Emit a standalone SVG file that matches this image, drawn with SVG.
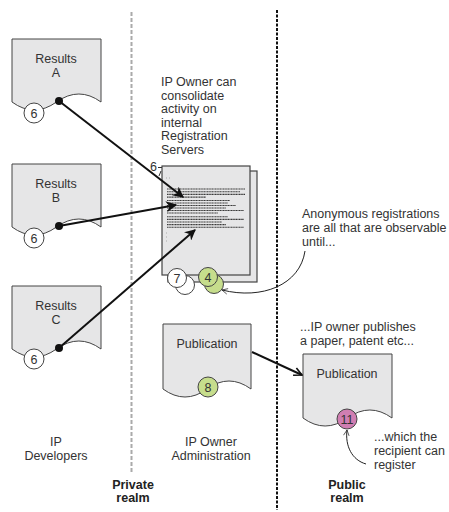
<svg xmlns="http://www.w3.org/2000/svg" width="449" height="512" viewBox="0 0 449 512">
  <style>
    text { font-family: "Liberation Sans", Arial, sans-serif; font-size: 12.5px; fill: #333; }
    .c { text-anchor: middle; }
    .b { font-weight: bold; fill: #222; }
    .doc { fill: #e6e6e7; stroke: #444; stroke-width: 1; }
    .sheet { fill: #e6e6e7; stroke: #444; stroke-width: 1.2; }
    .num { fill: #fff; stroke: #444; stroke-width: 1; }
    .green { fill: #c6dd8c; stroke: #444; stroke-width: 1; }
    .pink { fill: #d07eb2; stroke: #444; stroke-width: 1; }
    .flow { stroke: #111; stroke-width: 2; fill: none; marker-end: url(#ah); }
    .note { stroke: #222; stroke-width: 1; fill: none; marker-end: url(#thin); }
    .row { stroke: #3a3a3a; stroke-width: 1.1; stroke-dasharray: 1.2 0.4; }
    .dots { stroke: #aaa; stroke-width: 1; stroke-dasharray: 1 2; }
  </style>
  <defs>
    <marker id="ah" viewBox="0 0 10 10" refX="9" refY="5" markerWidth="5.5" markerHeight="5.5" orient="auto" markerUnits="strokeWidth">
      <path d="M0,0 L10,5 L0,10 L3,5 Z" fill="#111"/>
    </marker>
    <marker id="open" viewBox="0 0 10 10" refX="9" refY="5" markerWidth="5" markerHeight="5" orient="auto" markerUnits="strokeWidth">
      <path d="M1,1 L9,5 L1,9" fill="none" stroke="#111" stroke-width="1.6"/>
    </marker>
    <marker id="thin" viewBox="0 0 10 10" refX="9" refY="5" markerWidth="7" markerHeight="7" orient="auto" markerUnits="strokeWidth">
      <path d="M1,1 L9,5 L1,9" fill="none" stroke="#222" stroke-width="1"/>
    </marker>
  </defs>

  <!-- realm boundaries -->
  <line x1="131.5" y1="12" x2="131.5" y2="472" stroke="#aaa" stroke-width="2" stroke-dasharray="4 2"/>
  <line x1="277" y1="10" x2="277" y2="510" stroke="#111" stroke-width="2" stroke-dasharray="3 1.5"/>

  <!-- column captions -->
  <text class="c" x="56" y="446">IP</text>
  <text class="c" x="56" y="460">Developers</text>
  <text class="c" x="211" y="446">IP Owner</text>
  <text class="c" x="211" y="460">Administration</text>
  <text class="c b" x="133" y="489">Private</text>
  <text class="c b" x="133" y="502">realm</text>
  <text class="c b" x="347" y="489">Public</text>
  <text class="c b" x="347" y="502">realm</text>

  <!-- annotations -->
  <text x="161" y="86">IP Owner can</text>
  <text x="161" y="99.6">consolidate</text>
  <text x="161" y="113.2">activity on</text>
  <text x="161" y="126.8">internal</text>
  <text x="161" y="140.4">Registration</text>
  <text x="161" y="154">Servers</text>

  <text x="302" y="218">Anonymous registrations</text>
  <text x="302" y="232">are all that are observable</text>
  <text x="302" y="246">until...</text>

  <text x="300" y="331">...IP owner publishes</text>
  <text x="300" y="345">a paper, patent etc...</text>

  <text x="374" y="441">...which the</text>
  <text x="374" y="455">recipient can</text>
  <text x="374" y="469">register</text>

  <!-- Results A -->
  <g id="results-a">
    <path class="doc" d="M12,39 H101 V102 Q79,86 56.5,102 T12,102 Z"/>
    <text class="c" x="56" y="63">Results</text>
    <text class="c" x="56" y="77">A</text>
    <circle class="num" cx="34" cy="113" r="10"/>
    <text class="c" x="34" y="117.5">6</text>
    <circle cx="59" cy="101" r="4" fill="#111"/>
  </g>

  <!-- Results B -->
  <g id="results-b">
    <path class="doc" d="M12,164 H101 V227 Q79,211 56.5,227 T12,227 Z"/>
    <text class="c" x="56" y="188">Results</text>
    <text class="c" x="56" y="202">B</text>
    <circle class="num" cx="34" cy="238" r="10"/>
    <text class="c" x="34" y="242.5">6</text>
    <circle cx="59" cy="226" r="4" fill="#111"/>
  </g>

  <!-- Results C -->
  <g id="results-c">
    <path class="doc" d="M12,286 H101 V349 Q79,333 56.5,349 T12,349 Z"/>
    <text class="c" x="56" y="310">Results</text>
    <text class="c" x="56" y="324">C</text>
    <circle class="num" cx="34" cy="359" r="10"/>
    <text class="c" x="34" y="363.5">6</text>
    <circle cx="59" cy="348" r="4" fill="#111"/>
  </g>

  <!-- internal registration server log -->
  <g id="registration-servers">
    <rect class="sheet" x="168" y="171" width="89" height="111"/>
    <rect class="sheet" x="162" y="166" width="88" height="109"/>
    <line class="dots" x1="166" y1="178" x2="170" y2="178"/>
    <line class="row" x1="167" y1="189" x2="245" y2="189"/>
    <line class="row" x1="167" y1="191.7" x2="240" y2="191.7"/>
    <line class="row" x1="167" y1="194.4" x2="245" y2="194.4"/>
    <line class="row" x1="167" y1="197.1" x2="206" y2="197.1"/>
    <line class="row" x1="167" y1="200.5" x2="230" y2="200.5"/>
    <line class="row" x1="167" y1="203" x2="228" y2="203"/>
    <line class="row" x1="167" y1="205.5" x2="236" y2="205.5"/>
    <line class="row" x1="167" y1="208" x2="226" y2="208"/>
    <line class="row" x1="167" y1="210.5" x2="244" y2="210.5"/>
    <line class="row" x1="167" y1="213" x2="218" y2="213"/>
    <line class="row" x1="167" y1="216.8" x2="228" y2="216.8"/>
    <line class="row" x1="167" y1="219.4" x2="244" y2="219.4"/>
    <line class="row" x1="167" y1="222" x2="222" y2="222"/>
    <line class="row" x1="167" y1="224.6" x2="226" y2="224.6"/>
    <line class="row" x1="167" y1="227.2" x2="244" y2="227.2"/>
    <line class="dots" x1="166" y1="233" x2="169" y2="233"/>
    <line class="dots" x1="166" y1="237" x2="169" y2="237"/>
    <line class="dots" x1="166" y1="241" x2="169" y2="241"/>
    <text x="150" y="171">6</text>
    <path d="M158,167.5 H162 M161,171 L159,176" stroke="#333" stroke-width="1" fill="none"/>
  </g>

  <!-- stacked registration markers -->
  <g id="marker-7">
    <circle class="num" cx="185" cy="285" r="9.5"/>
    <circle class="num" cx="177" cy="278" r="9.5"/>
    <text class="c" x="177" y="282.5">7</text>
  </g>
  <g id="marker-4">
    <circle class="green" cx="214" cy="284" r="9.5"/>
    <circle class="green" cx="208" cy="277" r="9.5"/>
    <text class="c" x="208" y="281.5">4</text>
  </g>

  <!-- Publication (administration) -->
  <g id="publication-internal">
    <path class="doc" d="M163,324 H251 V389 Q229,373 207,389 T163,389 Z"/>
    <text class="c" x="207" y="348">Publication</text>
    <circle class="green" cx="208" cy="387" r="10"/>
    <text class="c" x="208" y="391.5">8</text>
  </g>

  <!-- Publication (public) -->
  <g id="publication-public">
    <path class="doc" d="M303,354 H392 V418 Q370,402 347.5,418 T303,418 Z"/>
    <text class="c" x="347" y="378">Publication</text>
    <circle class="pink" cx="347" cy="419" r="10"/>
    <text class="c" x="347" y="423.5">11</text>
  </g>

  <!-- connectors -->
  <g id="connectors">
    <line class="flow" x1="59" y1="101" x2="183" y2="197"/>
    <line class="flow" x1="59" y1="226" x2="176" y2="205"/>
    <line class="flow" x1="59" y1="348" x2="195" y2="230"/>
    <line x1="252" y1="352" x2="302" y2="375" stroke="#111" stroke-width="2" marker-end="url(#open)"/>
    <path class="note" d="M305,251 C300,285 262,300 222,290"/>
    <path class="note" d="M366,464 C352,460 345,446 347,430"/>
  </g>
</svg>
